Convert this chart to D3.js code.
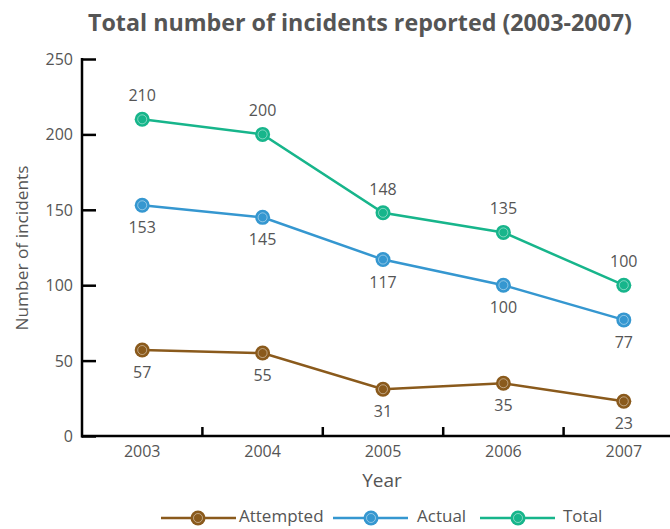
<!DOCTYPE html>
<html>
<head>
<meta charset="utf-8">
<script src="https://cdn.jsdelivr.net/npm/d3@7"></script>
<style>
  html, body { margin: 0; padding: 0; background: #fff; }
  svg { display: block; }
  text { font-family: "Open Sans", "Noto Sans", sans-serif; fill: #555; }
</style>
</head>
<body>
<svg id="chart" width="670" height="529"></svg>
<script>
// Incident counts per year
const years = ["2003", "2004", "2005", "2006", "2007"];
const attempted = [57, 55, 31, 35, 23];
const actual = [153, 145, 117, 100, 77];
const total = [210, 200, 148, 135, 100];
const yTicks = [0, 50, 100, 150, 200, 250];

const seriesNames = ["Attempted", "Actual", "Total"];
const seriesColors = ["#8a5a1c", "#3597d0", "#17b58b"];
const seriesValues = [attempted, actual, total];
// label offset direction per series: below for Attempted/Actual, above for Total
const labelSide = [1, 1, -1];

const svg = d3.select("#chart");

const x = d3.scaleBand().domain(years).range([82, 684]);
const y = d3.scaleLinear().domain([0, 250]).range([436, 59]);

// Title
svg.append("text")
  .attr("x", 360).attr("y", 31)
  .attr("text-anchor", "middle")
  .style("font-family", "'Open Sans', sans-serif")
  .style("font-weight", "bold")
  .style("font-size", "24px")
  .attr("textLength", 544)
  .attr("lengthAdjust", "spacingAndGlyphs")
  .text("Total number of incidents reported (2003-2007)");

// Y axis
const yAxis = svg.append("g").attr("transform", "translate(82,0)")
  .call(d3.axisRight(y).tickValues(yTicks).tickSize(14).tickFormat(""));
yAxis.select(".domain").remove();
yAxis.selectAll(".tick line").attr("stroke", "#000").attr("stroke-width", 2.5);
svg.append("line").attr("x1", 82).attr("x2", 82).attr("y1", 58).attr("y2", 437.5)
  .attr("stroke", "#000").attr("stroke-width", 2.5);
svg.append("g").selectAll("text").data(yTicks).join("text")
  .attr("x", 73).attr("y", d => y(d) + 6)
  .attr("text-anchor", "end")
  .style("font-size", "16px")
  .text(d => d);

// X axis
const xAxis = svg.append("g").attr("transform", "translate(0,436)");
xAxis.append("line").attr("x1", 81).attr("x2", 670).attr("y1", 0).attr("y2", 0)
  .attr("stroke", "#000").attr("stroke-width", 2.5);
xAxis.selectAll(".xtick").data(years.slice(1)).join("line")
  .attr("class", "xtick")
  .attr("x1", d => x(d)).attr("x2", d => x(d))
  .attr("y1", 0).attr("y2", -9)
  .attr("stroke", "#000").attr("stroke-width", 2.5);
xAxis.selectAll(".xlab").data(years).join("text")
  .attr("class", "xlab")
  .attr("x", d => x(d) + x.bandwidth() / 2)
  .attr("y", 21)
  .attr("text-anchor", "middle")
  .style("font-size", "16px")
  .text(d => d);

// Axis titles
svg.append("text")
  .attr("x", 382).attr("y", 487)
  .attr("text-anchor", "middle")
  .style("font-size", "19px")
  .text("Year");
svg.append("text")
  .attr("transform", "translate(28,248) rotate(-90)")
  .attr("text-anchor", "middle")
  .style("font-size", "16px")
  .attr("textLength", 165)
  .attr("lengthAdjust", "spacingAndGlyphs")
  .text("Number of incidents");

const cx = d => x(d) + x.bandwidth() / 2;
const line = d3.line().x(d => cx(d.year)).y(d => y(d.value));

function marker(g, color) {
  g.append("circle").attr("r", 7.5).attr("fill", color);
  g.append("circle").attr("r", 4.5).attr("fill", "none")
    .attr("stroke", "#fff").attr("stroke-opacity", 0.55).attr("stroke-width", 0.8);
}

seriesValues.forEach((vals, i) => {
  const data = years.map((yr, j) => ({ year: yr, value: vals[j] }));
  const g = svg.append("g");
  g.append("path").datum(data)
    .attr("d", line)
    .attr("fill", "none")
    .attr("stroke", seriesColors[i])
    .attr("stroke-width", 2.5);
  data.forEach(d => {
    const m = g.append("g").attr("transform", `translate(${cx(d.year)},${y(d.value)})`);
    marker(m, seriesColors[i]);
  });
  g.selectAll(".vlab").data(data).join("text")
    .attr("x", d => cx(d.year))
    .attr("y", d => y(d.value) + (labelSide[i] > 0 ? 28 : -18))
    .attr("text-anchor", "middle")
    .style("font-size", "16px")
    .text(d => d.value);
});

// Legend
const legendItems = [
  { x1: 161, x2: 236, mx: 198, tx: 239 },
  { x1: 333, x2: 408, mx: 371, tx: 417 },
  { x1: 480, x2: 555, mx: 518, tx: 563 }
];
const legendY = 518;
legendItems.forEach((it, i) => {
  const g = svg.append("g");
  g.append("line").attr("x1", it.x1).attr("x2", it.x2)
    .attr("y1", legendY).attr("y2", legendY)
    .attr("stroke", seriesColors[i]).attr("stroke-width", 2.5);
  const m = g.append("g").attr("transform", `translate(${it.mx},${legendY})`);
  marker(m, seriesColors[i]);
  g.append("text").attr("x", it.tx).attr("y", legendY + 4)
    .style("font-size", "17px")
    .text(seriesNames[i]);
});
</script>
</body>
</html>
